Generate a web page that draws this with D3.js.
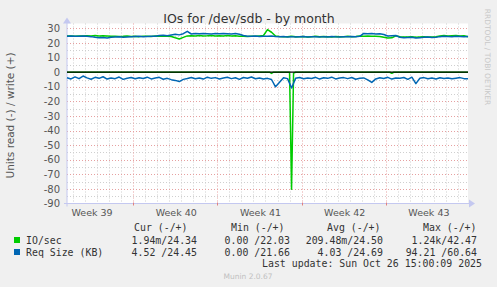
<!DOCTYPE html>
<html>
<head>
<meta charset="utf-8">
<script src="https://cdn.jsdelivr.net/npm/d3@7"></script>
<style>
  html, body { margin: 0; padding: 0; background: #f0f0f0; }
  svg { display: block; font-family: "DejaVu Sans", sans-serif; }
  .mono { font-family: "DejaVu Sans Mono", monospace; font-size: 9.9px; fill: #333; }
</style>
</head>
<body>
<div id="chart"></div>
<script>
// sample grid: 8h steps for most series, 4h for the read IO/sec series
const startTime = Date.UTC(2025, 8, 23, 12, 0, 0);
const spanHours = 800;
const stepHours = 8;
const ioReadStepHours = 4;

// IO/sec write (+)
const ioWrite = [
  24.8, 24.9, 24.7, 24.8, 24.9, 25.0, 24.9, 25.1, 24.8, 25.0,
  24.9, 24.6, 24.7, 24.5, 24.6, 24.8, 24.5, 24.6, 24.4, 24.7,
  24.6, 24.5, 24.8, 24.6, 24.9, 24.7, 24.5, 23.6, 22.8, 23.9,
  24.9, 25.0, 24.8, 25.1, 24.9, 25.0, 25.2, 24.9, 25.0, 24.8,
  25.1, 24.9, 25.0, 24.7, 24.6, 24.5, 24.7, 24.6, 24.9, 25.2,
  29.2, 27.4, 24.8, 24.5, 24.3, 24.4, 24.6, 24.3, 24.4, 24.5,
  24.2, 24.4, 24.6, 24.3, 24.5, 24.4, 24.2, 24.5, 24.4, 24.3,
  24.6, 24.4, 24.5, 24.9, 24.7, 24.8, 24.6, 24.7, 24.5, 24.0,
  23.5, 23.6, 25.0, 24.3, 24.1, 24.2, 24.4, 24.0, 24.2, 24.3,
  24.1, 24.2, 24.4, 24.9, 25.1, 24.8, 25.0, 25.2, 24.9, 25.0,
  24.34
];

// IO/sec read (-), shown below zero
const ioRead = [
  0, 0, 0, 0, 0, 0, 0, 0, 0, 0, 0, 0, 0, 0, 0, 0, 0, 0, 0, 0,
  0, 0, 0, 0, 0, 0, 0, 0, 0, 0, 0, 0, 0, 0, 0, 0, 0, 0, 0, 0,
  0, 0, 0, 0, 0, 0, 0, 0, 0, 0, 0, 0, 0, 0, 0, 0, 0, 0, 0, 0,
  0, 0, 0, 0, 0, 0, 0, 0, 0, 0, 0, 0, 0, 0, 0, 0, 0, 0, 0, 0,
  0, 0, 0, 0, 0, 0, 0, 0, 0, 0, 0, 0, 0, 0, 0, 0, 0, 0, 0, 0,
  0, 0, 0.8, 0, 0, 0, 0, 0, 0, 0, 0, 0, 80.3, 0.6, 0, 0, 0, 0, 0, 0,
  0, 0, 0, 0, 0, 0, 0, 0, 0, 0, 0, 0, 0, 0, 0, 0, 0, 0, 0, 0,
  0, 0, 0, 0, 0, 0, 0, 0, 0, 0, 0, 0, 0, 0, 0, 0, 0, 0, 0, 0,
  0, 0, 0.7, 0, 0, 0, 0, 0, 0, 0, 0, 0, 0, 0, 0, 0, 0, 0, 0, 0,
  0, 0, 0, 0, 0, 0, 0, 0, 0, 0, 0, 0, 0, 0, 0, 0, 0, 0, 0, 0,
  0
];

// Req Size (KB) write (+)
const reqWrite = [
  24.7, 24.8, 24.6, 24.7, 24.8, 24.6, 24.4, 23.9, 23.6, 23.8,
  23.5, 23.9, 24.1, 24.3, 24.0, 24.2, 24.4, 24.5, 24.6, 24.3,
  24.5, 24.7, 24.6, 25.1, 25.4, 25.0, 25.5, 26.0, 25.6, 26.4,
  28.0, 26.2, 26.5, 26.3, 26.6, 26.4, 26.2, 26.5, 26.3, 26.6,
  26.4, 26.2, 26.5, 26.0, 25.2, 24.7, 24.6, 24.8, 24.5, 24.7,
  24.6, 24.8, 24.5, 24.3, 24.5, 24.2, 24.4, 24.1, 24.3, 24.5,
  24.2, 24.4, 24.3, 24.1, 24.4, 24.2, 24.5, 24.3, 24.2, 24.4,
  24.3, 24.5, 24.4, 24.6, 26.6, 26.3, 26.5, 26.2, 26.4, 25.9,
  24.8, 25.0, 25.2, 23.9, 23.6, 23.8, 24.0, 23.5, 23.7, 23.9,
  24.1, 23.8, 24.0, 24.4, 24.6, 24.5, 24.3, 24.6, 24.5, 24.4,
  24.45
];

// Req Size (KB) read (-)
const reqRead = [
  3.8, 4.6, 3.2, 4.4, 2.6, 3.9, 4.8, 3.5, 4.2, 3.1,
  4.7, 3.9, 4.4, 3.3, 4.9, 4.1, 3.6, 4.5, 3.8, 4.3,
  3.4, 4.6, 4.0, 3.5, 4.8, 4.2, 5.1, 5.6, 6.4, 4.9,
  4.3, 3.6, 4.5, 3.9, 4.7, 3.4, 4.2, 3.7, 4.6, 4.0,
  3.5, 4.4, 3.8, 4.9, 3.6, 4.1, 3.3, 4.5, 3.9, 4.6,
  4.2, 5.0, 10.0, 6.9, 3.8, 4.4, 10.8, 4.2, 3.6, 4.5,
  3.9, 4.3, 3.5, 4.7, 3.8, 4.2, 3.4, 4.6, 4.0, 3.7,
  4.4, 3.6, 4.8, 4.1, 3.9, 5.2, 7.0, 4.6, 3.8, 4.3,
  3.5, 4.7, 3.9, 4.2, 3.6, 4.9, 3.4, 7.8, 4.1, 3.7,
  4.5, 4.0, 4.6, 3.8, 4.3, 3.9, 4.5, 4.1, 3.7, 4.4,
  4.52
];

const yTicks = [30, 20, 10, 0, -10, -20, -30, -40, -50, -60, -70, -80, -90];

const legendHeaders = ['Cur (-/+)', 'Min (-/+)', 'Avg (-/+)', 'Max (-/+)'];
const legendRows = [
  { label: 'IO/sec', color: '#00cc00', values: ['1.94m/24.34', '0.00 /22.03', '209.48m/24.50', '1.24k/42.47'] },
  { label: 'Req Size (KB)', color: '#0066b3', values: ['4.52 /24.45', '0.00 /21.66', '4.03 /24.69', '94.21 /60.64'] },
];
const lastUpdate = 'Last update: Sun Oct 26 15:00:09 2025';

const W = 497, H = 287;
const plot = { left: 67, right: 468, top: 23.5, bottom: 203.5 };

const svg = d3.select('#chart').append('svg')
  .attr('width', W).attr('height', H);

svg.append('rect').attr('width', W).attr('height', H).attr('fill', '#f0f0f0');

const x = d3.scaleUtc()
  .domain([new Date(startTime), new Date(startTime + spanHours * 3600e3)])
  .range([plot.left, plot.right]);
const y = d3.scaleLinear().domain([-90, 33.4]).range([plot.bottom, plot.top]);

svg.append('rect')
  .attr('x', plot.left).attr('y', plot.top)
  .attr('width', plot.right - plot.left).attr('height', plot.bottom - plot.top)
  .attr('fill', '#ffffff');

const grid = svg.append('g');
// minor grid: every 5 units, every day
grid.selectAll('.hmin').data(d3.range(-85, 33, 5).filter((v) => v % 10 !== 0))
  .join('line')
  .attr('x1', plot.left).attr('x2', plot.right)
  .attr('y1', (d) => Math.round(y(d)) + 0.5).attr('y2', (d) => Math.round(y(d)) + 0.5)
  .attr('stroke', '#cfcfcf').attr('stroke-dasharray', '1,2');
const days = d3.utcDay.range(x.domain()[0], x.domain()[1]).filter((d) => d.getUTCDay() !== 1);
grid.selectAll('.vmin').data(days)
  .join('line')
  .attr('x1', (d) => Math.round(x(d)) + 0.5).attr('x2', (d) => Math.round(x(d)) + 0.5)
  .attr('y1', plot.top).attr('y2', plot.bottom)
  .attr('stroke', '#cfcfcf').attr('stroke-dasharray', '1,2');
// major grid: labelled values and week starts
grid.selectAll('.hmaj').data(yTicks.filter((v) => v !== 0 && v !== -90))
  .join('line')
  .attr('x1', plot.left).attr('x2', plot.right)
  .attr('y1', (d) => Math.round(y(d)) + 0.5).attr('y2', (d) => Math.round(y(d)) + 0.5)
  .attr('stroke', '#e6a0a0').attr('stroke-dasharray', '1,2');
const weeks = d3.utcMonday.range(x.domain()[0], x.domain()[1]);
grid.selectAll('.vmaj').data(weeks)
  .join('line')
  .attr('x1', (d) => Math.round(x(d)) + 0.5).attr('x2', (d) => Math.round(x(d)) + 0.5)
  .attr('y1', plot.top).attr('y2', plot.bottom)
  .attr('stroke', '#e6a0a0').attr('stroke-dasharray', '1,2');

// axes
const axisColor = '#c4c8f0';
svg.append('line')
  .attr('x1', plot.left - 3).attr('x2', plot.right + 2)
  .attr('y1', plot.bottom).attr('y2', plot.bottom)
  .attr('stroke', axisColor);
svg.append('path')
  .attr('d', `M${plot.right + 1},${plot.bottom - 4}L${plot.right + 7},${plot.bottom}L${plot.right + 1},${plot.bottom + 4}Z`)
  .attr('fill', axisColor);
svg.append('line')
  .attr('x1', plot.left).attr('x2', plot.left)
  .attr('y1', plot.bottom + 3).attr('y2', plot.top - 1)
  .attr('stroke', axisColor);
svg.append('path')
  .attr('d', `M${plot.left - 4},${plot.top}L${plot.left},${plot.top - 6}L${plot.left + 4},${plot.top}Z`)
  .attr('fill', axisColor);

// week tick marks on the x axis
svg.selectAll('.wtick').data(weeks)
  .join('line')
  .attr('x1', (d) => Math.round(x(d)) + 0.5).attr('x2', (d) => Math.round(x(d)) + 0.5)
  .attr('y1', plot.bottom - 1).attr('y2', plot.bottom + 2)
  .attr('stroke', '#e08080');

// y labels
svg.selectAll('.ylab').data(yTicks)
  .join('text')
  .attr('x', 60).attr('y', (d) => y(d) + 3.6)
  .attr('text-anchor', 'end')
  .attr('font-size', 10).attr('fill', '#555')
  .text((d) => d);

// week labels centered on each week
const weekStarts = d3.utcMonday.range(d3.utcMonday.floor(x.domain()[0]), x.domain()[1]);
svg.selectAll('.xlab').data(weekStarts)
  .join('text')
  .attr('x', (d) => x(d3.utcHour.offset(d, 84)) + 1)
  .attr('y', 216)
  .attr('text-anchor', 'middle')
  .attr('font-size', 9.5).attr('fill', '#555')
  .text((d) => 'Week ' + d3.utcFormat('%V')(d));

// series
const timeAt = (step) => (d, i) => x(new Date(startTime + i * step * 3600e3));
const drawLine = (values, step, sign, color) => {
  const line = d3.line().x(timeAt(step)).y((d) => y(sign * d));
  svg.append('path')
    .datum(values)
    .attr('d', line)
    .attr('fill', 'none')
    .attr('stroke', color)
    .attr('stroke-width', 1.5)
    .attr('stroke-linejoin', 'round');
};
drawLine(ioRead, ioReadStepHours, -1, '#00cc00');
drawLine(ioWrite, stepHours, 1, '#00cc00');
drawLine(reqRead, stepHours, -1, '#0066b3');
drawLine(reqWrite, stepHours, 1, '#0066b3');

// zero rule
svg.append('line')
  .attr('x1', plot.left).attr('x2', plot.right)
  .attr('y1', y(0)).attr('y2', y(0))
  .attr('stroke', '#000').attr('stroke-width', 1.2);

// title and side texts
svg.append('text')
  .attr('x', 249).attr('y', 23)
  .attr('text-anchor', 'middle')
  .attr('font-size', 12.5).attr('fill', '#333')
  .text('IOs for /dev/sdb - by month');

svg.append('text')
  .attr('transform', `translate(14,${(plot.top + plot.bottom) / 2 + 2}) rotate(-90)`)
  .attr('text-anchor', 'middle')
  .attr('font-size', 10.5).attr('fill', '#555')
  .text('Units read (-) / write (+)');

svg.append('text')
  .attr('transform', 'translate(485,57) rotate(90)')
  .attr('text-anchor', 'middle')
  .attr('font-size', 7.5).attr('fill', '#c8c8c8')
  .text('RRDTOOL / TOBI OETIKER');

// legend
const headerX = [134, 231, 327, 423];
const valueEnd = [197, 290, 383, 477];
svg.selectAll('.lhead').data(legendHeaders)
  .join('text')
  .attr('class', 'mono')
  .attr('x', (d, i) => headerX[i]).attr('y', 231)
  .text((d) => d);

const rows = svg.selectAll('.lrow').data(legendRows)
  .join('g')
  .attr('transform', (d, i) => `translate(0,${243.5 + i * 12})`);
rows.append('rect')
  .attr('x', 14).attr('y', -6.5).attr('width', 6).attr('height', 6)
  .attr('fill', (d) => d.color);
rows.append('text')
  .attr('class', 'mono')
  .attr('x', 26).attr('y', 0)
  .text((d) => d.label);
rows.selectAll('.val').data((d) => d.values)
  .join('text')
  .attr('class', 'mono')
  .attr('x', (d, i) => valueEnd[i]).attr('y', 0)
  .attr('text-anchor', 'end')
  .text((d) => d);

svg.append('text')
  .attr('class', 'mono')
  .attr('x', 482).attr('y', 267)
  .attr('text-anchor', 'end')
  .text(lastUpdate);

svg.append('text')
  .attr('x', 248).attr('y', 279)
  .attr('text-anchor', 'middle')
  .attr('font-size', 7.5).attr('fill', '#c0c0c0')
  .text('Munin 2.0.67');
</script>
</body>
</html>
